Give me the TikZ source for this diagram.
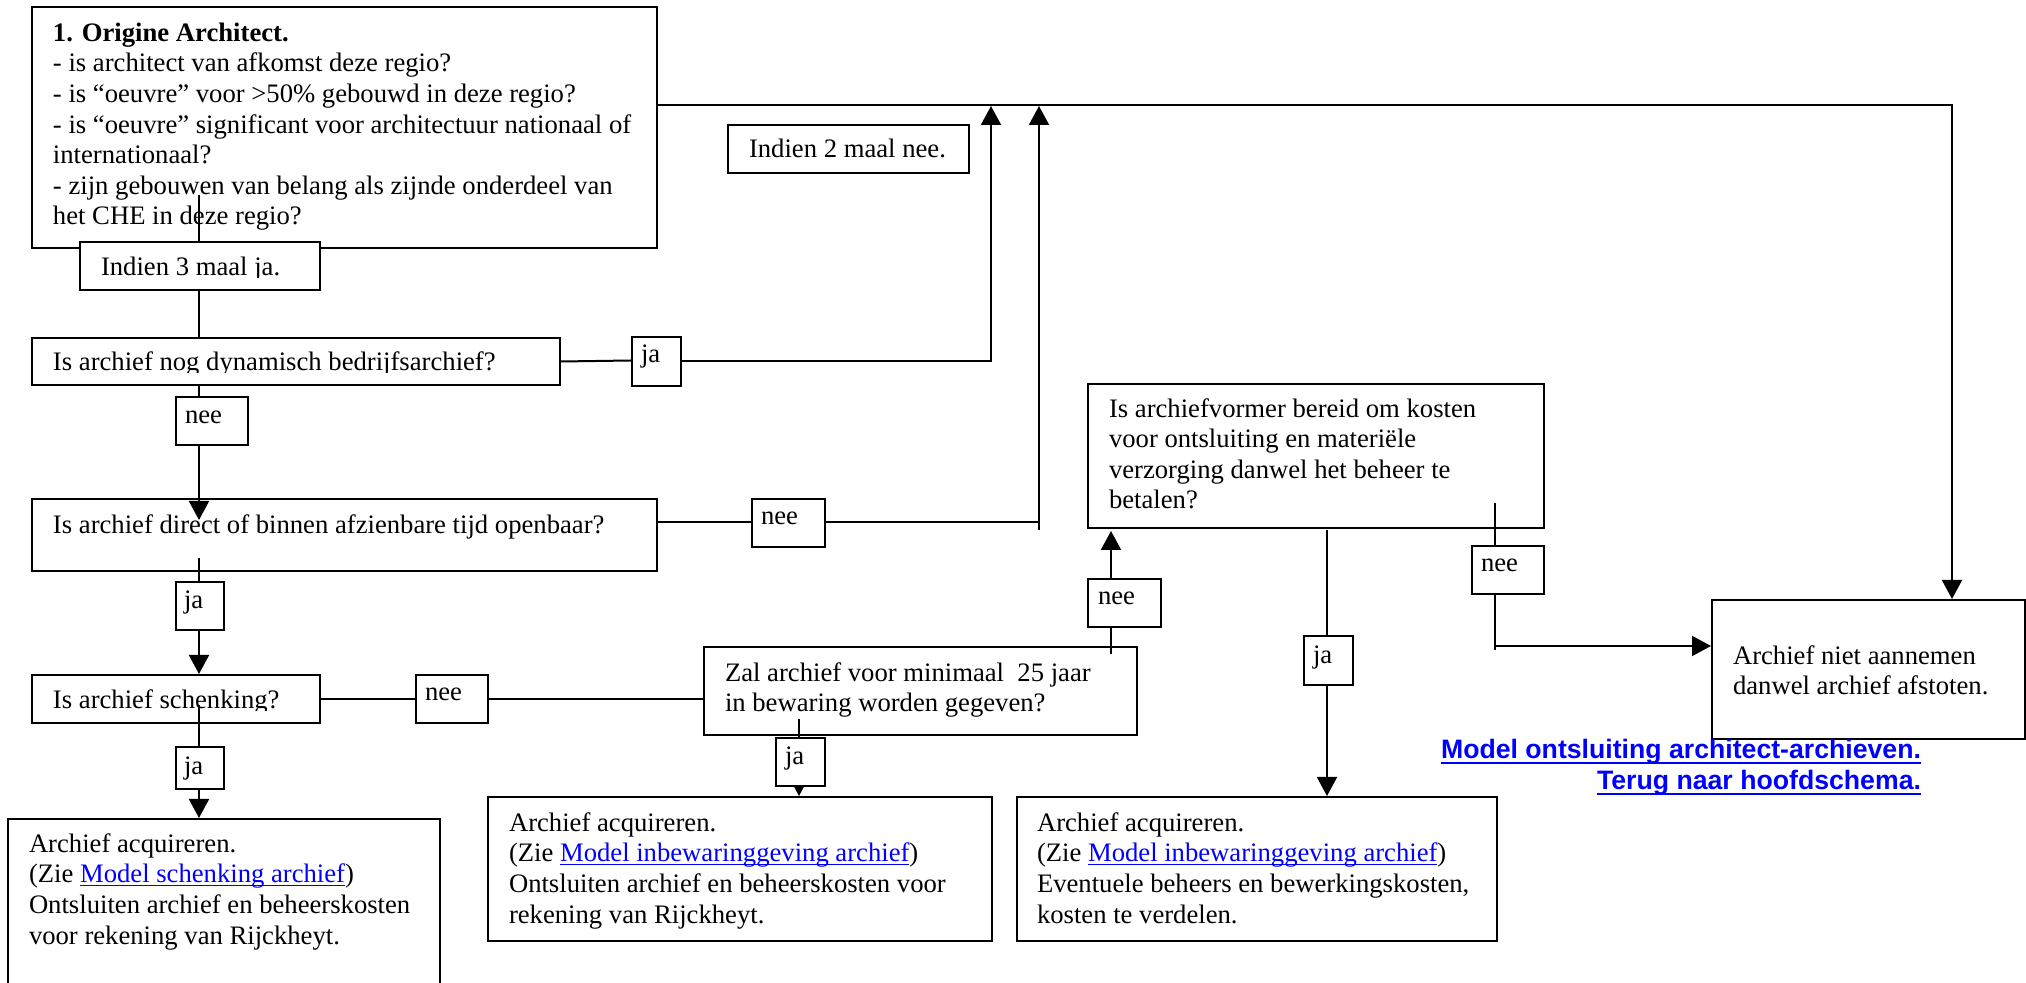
\documentclass[tikz,border=0pt]{standalone}
\usepackage{fontspec}
\setmainfont{Liberation Serif}
\newfontfamily\arialfont{Liberation Sans}
\usetikzlibrary{arrows.meta}
\definecolor{linkblue}{RGB}{0,0,255}
% hyperlink look: blue text with a thin underline just below the baseline
\newcommand\lnk[1]{\setbox0=\hbox{#1}\rlap{\color{linkblue}\rule[-1.8pt]{\wd0}{0.75pt}}{\color{linkblue}#1}}
\newcommand\blnk[1]{\setbox0=\hbox{#1}\rlap{\color{linkblue}\rule[-2.4pt]{\wd0}{1pt}}{\color{linkblue}#1}}
% box given by its corners: \frm[style]{name}{x1}{y1}{x2}{y2}
\newcommand\frm[6][frame]{\node[#1, minimum width={(#5-#3)*0.5pt}, minimum height={(#6-#4)*0.5pt}] (#2) at (#3,#4) {};}
\begin{document}
% text nodes are placed by the baseline of their last line
\begin{tikzpicture}[x=0.5pt, y=-0.5pt, line width=1pt,
  frame/.style={draw, rectangle, inner sep=0pt, anchor=north west},
  tag/.style={frame, fill=white},
  txt/.style={inner sep=0pt, anchor=base west, align=left, font={\fontsize{13.33pt}{15.3pt}\selectfont}},
  link/.style={inner sep=0pt, anchor=base east, text=linkblue, font={\arialfont\bfseries\fontsize{13.33pt}{15.3pt}\selectfont}},
  arr/.style={-{Triangle[length=9.5pt,width=10pt]}}]
\clip (0,0) rectangle (2026,983);
\fill[white] (0,0) rectangle (2026,983);

% ---------- main boxes ----------
\frm{b1}{31}{6}{656}{247}
\frm{dyn}{31}{337}{559}{384}
\frm{dir}{31}{498}{656}{570}
\frm{sch}{31}{674}{319}{722}
\frm{zal}{703}{646}{1136}{734}
\frm{vorm}{1087}{383}{1543}{527}
\frm{niet}{1711}{599}{2024}{738}
\frm{acq1}{7}{818}{439}{1010}
\frm{acq2}{487}{796}{991}{940}
\frm{acq3}{1016}{796}{1496}{940}

\node[txt] (t-b1) at (52,225) {\textbf{1. Origine Architect.}\\
- is architect van afkomst deze regio?\\
- is “oeuvre” voor >50\% gebouwd in deze regio?\\
- is “oeuvre” significant voor architectuur nationaal of\\
internationaal?\\
- zijn gebouwen van belang als zijnde onderdeel van\\
het CHE in deze regio?};
\begin{scope}
  \clip (0,0) rectangle (2026,373);
  \node[txt] (t-dyn) at (52,371) {Is archief nog dynamisch bedrijfsarchief?};
\end{scope}
\node[txt] (t-dir) at (52,534) {Is archief direct of binnen afzienbare tijd openbaar?};
\begin{scope}
  \clip (0,0) rectangle (2026,711);
  \node[txt] (t-sch) at (52,709) {Is archief schenking?};
\end{scope}
\node[txt] (t-zal) at (724,712) {Zal archief voor minimaal\ \ 25 jaar\\in bewaring worden gegeven?};
\node[txt] (t-vorm) at (1108,509) {Is archiefvormer bereid om kosten\\voor ontsluiting en materiële\\verzorging danwel het beheer te\\betalen?};
\node[txt] (t-niet) at (1732,695) {Archief niet aannemen\\danwel archief afstoten.};
\node[txt] (t-acq1) at (28,944) {Archief acquireren.\\(Zie \lnk{Model schenking archief})\\Ontsluiten archief en beheerskosten\\voor rekening van Rijckheyt.};
\node[txt] (t-acq2) at (508,923) {Archief acquireren.\\(Zie \lnk{Model inbewaringgeving archief})\\Ontsluiten archief en beheerskosten voor\\rekening van Rijckheyt.};
\node[txt] (t-acq3) at (1036,923) {Archief acquireren.\\(Zie \lnk{Model inbewaringgeving archief})\\Eventuele beheers en bewerkingskosten,\\kosten te verdelen.};

% ---------- junction points ----------
\coordinate (tl) at (1952,105);
\coordinate (up1) at (991,106);
\coordinate (up2) at (1039,106);
\coordinate (k1) at (631,360.5);
\coordinate (k2) at (1039,522);
\coordinate (k2b) at (1039,530);
\coordinate (s1) at (199,195);
\coordinate (t2) at (199,520);
\coordinate (s2) at (199,558);
\coordinate (s3) at (199,705);
\coordinate (s4) at (799,719);
\coordinate (s5) at (1111,654);
\coordinate (t5) at (1111,531);
\coordinate (s6) at (1327,530);
\coordinate (s7) at (1495,503);
\coordinate (e7) at (1495,650);
\coordinate (c7) at (1495,646);

% ---------- connectors ----------
\draw[arr] (b1.east |- tl) -- (tl) -- (tl |- niet.north);
\draw (s1) -- (dyn.north -| s1);
\draw (dyn.east) -- (k1);
\draw[arr] (dyn.south -| s1) -- (t2);
\draw (dir.east |- k2) -- (k2);
\draw[arr] (k2b) -- (up2);
\draw[arr] (s2) -- (sch.north -| s2);
\draw (sch.east) -- (zal.west |- sch.east);
\draw[arr] (s3) -- (acq1.north -| s3);
\draw[arr] (s4) -- (acq2.north -| s4);
\draw[arr] (s5) -- (t5);
\draw[arr] (s6) -- (acq3.north -| s6);
\draw (s7) -- (e7);
\draw[arr] (c7) -- (niet.west |- c7);

% ---------- answer labels ----------
\frm[tag]{ind3}{79}{241}{319}{289}
\begin{scope}
  \clip (0,0) rectangle (2026,278);
  \node[txt] (t-ind3) at (100,276) {Indien 3 maal ja.};
\end{scope}
\frm[tag]{ind2}{727}{124}{968}{172}
\node[txt] (t-ind2) at (748,158) {Indien 2 maal nee.};
\frm[tag]{ja1}{631}{336}{680}{385}
\node[txt] (t-ja1) at (640,363) {ja};
\draw[arr] (ja1.east) -| (up1);
\frm[tag]{nee1}{175}{396}{247}{444}
\node[txt] (t-nee1) at (184,424) {nee};
\frm[tag]{nee2}{751}{498}{824}{546}
\node[txt] (t-nee2) at (760,525) {nee};
\frm[tag]{ja2}{175}{581}{223}{629}
\node[txt] (t-ja2) at (183,609) {ja};
\frm[tag]{nee3}{415}{674}{487}{722}
\node[txt] (t-nee3) at (424,701) {nee};
\frm[tag]{ja3}{175}{746}{223}{788}
\node[txt] (t-ja3) at (183,775) {ja};
\frm[tag]{ja4}{775}{737}{824}{785}
\node[txt] (t-ja4) at (784,765) {ja};
\frm[tag]{nee4}{1087}{578}{1160}{626}
\node[txt] (t-nee4) at (1097,605) {nee};
\frm[tag]{ja5}{1303}{635}{1352}{684}
\node[txt] (t-ja5) at (1312,664) {ja};
\frm[tag]{nee5}{1471}{545}{1543}{593}
\node[txt] (t-nee5) at (1480,572) {nee};

% ---------- navigation links ----------
\node[link] (m1) at (1922,759) {\blnk{Model ontsluiting architect-archieven.}};
\node[link] (m2) at (1922,790) {\blnk{Terug naar hoofdschema.}};
\end{tikzpicture}
\end{document}
